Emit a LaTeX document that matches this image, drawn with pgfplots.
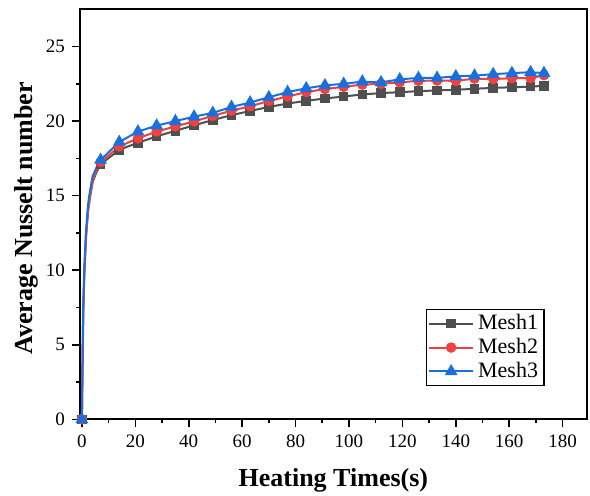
\documentclass[border=0pt]{standalone}
\usepackage{fontspec}
\setmainfont{Liberation Serif}
\usepackage{pgfplots}
\pgfplotsset{compat=1.18}
\definecolor{c1}{HTML}{4F4F4F}
\definecolor{c2}{HTML}{F14040}
\definecolor{c3}{HTML}{1A6FDF}
\begin{document}
\begin{tikzpicture}
\begin{axis}[
 scale only axis, width=253.3pt, height=205pt,
 xmin=-0.7, xmax=189, ymin=0, ymax=27.5,
 xtick={0,20,...,180}, ytick={0,5,...,25},
 minor x tick num=1, minor y tick num=1,
 tick align=outside, xtick pos=left, ytick pos=left,
 major tick length=4pt, minor tick length=2pt,
 axis line style={line width=1pt},
 every tick/.style={line width=0.8pt,black},
 tick label style={font=\fontsize{9.5}{11}\selectfont},
 /pgf/number format/assume math mode=true,
 xlabel={\textbf{Heating Times(s)}},
 ylabel={\textbf{Average Nusselt number}},
 label style={font=\fontsize{13}{15}\selectfont},
 xlabel style={at={(axis description cs:0.5,-0.148)},anchor=center},
 ylabel style={at={(axis description cs:-0.105,0.49)},anchor=center},
 legend style={at={(axis description cs:0.917,0.081)}, anchor=south east,
   draw=black, line width=0.6pt, font=\fontsize{11}{12}\selectfont,
   inner xsep=1pt, inner ysep=0.5pt, row sep=-1.2pt},
 legend cell align=left,
 legend image code/.code={\draw[mark indices={2}] plot coordinates {(0pt,0pt)(11pt,0pt)(22pt,0pt)};},
 every axis plot/.append style={line width=1pt},
]
\addplot[c1, mark=square*, mark size=1.9pt, mark options={solid,fill=c1},
 mark indices={1,10,11,12,13,14,15,16,17,18,19,20,21,22,23,24,25,26,27,28,29,30,31,32,33,34}]
coordinates {
(0,0)(0.25,4)(0.5,7.3)(0.9,9.8)(1.5,12.2)(2.25,13.9)(3,14.9)(4,15.9)(5.5,16.6)
(7,17.1)(14,18.08)(21,18.55)(28,18.98)(35,19.35)(42,19.72)(49,20.07)(56,20.4)(63,20.68)
(70,20.95)(77,21.18)(84,21.36)(91,21.52)(98,21.65)(105,21.79)(112,21.88)(119,21.94)
(126,22.01)(133,22.06)(140,22.1)(147,22.17)(154,22.23)(161,22.27)(168,22.31)(173,22.37)
};
\addlegendentry{Mesh1}
\addplot[c2, mark=*, mark size=2.1pt, mark options={solid,fill=c2},
 mark indices={1,10,11,12,13,14,15,16,17,18,19,20,21,22,23,24,25,26,27,28,29,30,31,32,33,34}]
coordinates {
(0,0)(0.3,4)(0.55,7.3)(0.95,9.8)(1.6,12.3)(2.35,14.0)(3.1,15.0)(4.1,16.0)(5.5,16.75)
(7,17.25)(14,18.3)(21,18.85)(28,19.3)(35,19.65)(42,19.98)(49,20.35)(56,20.7)(63,21.0)
(70,21.35)(77,21.65)(84,21.95)(91,22.15)(98,22.3)(105,22.45)(112,22.5)(119,22.6)
(126,22.7)(133,22.72)(140,22.7)(147,22.85)(154,22.82)(161,22.88)(168,22.88)(173,23.08)
};
\addlegendentry{Mesh2}
\addplot[c3, mark=triangle*, mark size=2.7pt, mark options={solid,fill=c3},
 mark indices={1,10,11,12,13,14,15,16,17,18,19,20,21,22,23,24,25,26,27,28,29,30,31,32,33,34}]
coordinates {
(0,0)(0.25,4)(0.5,7.5)(0.87,10)(1.5,12.5)(2.25,14.3)(2.75,15)(4,16.3)(5.5,16.9)
(7,17.4)(14,18.6)(21,19.3)(28,19.7)(35,20.0)(42,20.3)(49,20.55)(56,20.95)(63,21.25)
(70,21.6)(77,21.95)(84,22.2)(91,22.4)(98,22.5)(105,22.65)(112,22.6)(119,22.8)
(126,22.9)(133,22.9)(140,23.0)(147,23.05)(154,23.15)(161,23.22)(168,23.28)(173,23.22)
};
\addlegendentry{Mesh3}
\end{axis}
\pgfresetboundingbox
\path ([shift={(-40pt,-37.85pt)}]current axis.south west) rectangle ([shift={(1.65pt,4.65pt)}]current axis.north east);
\end{tikzpicture}
\end{document}
